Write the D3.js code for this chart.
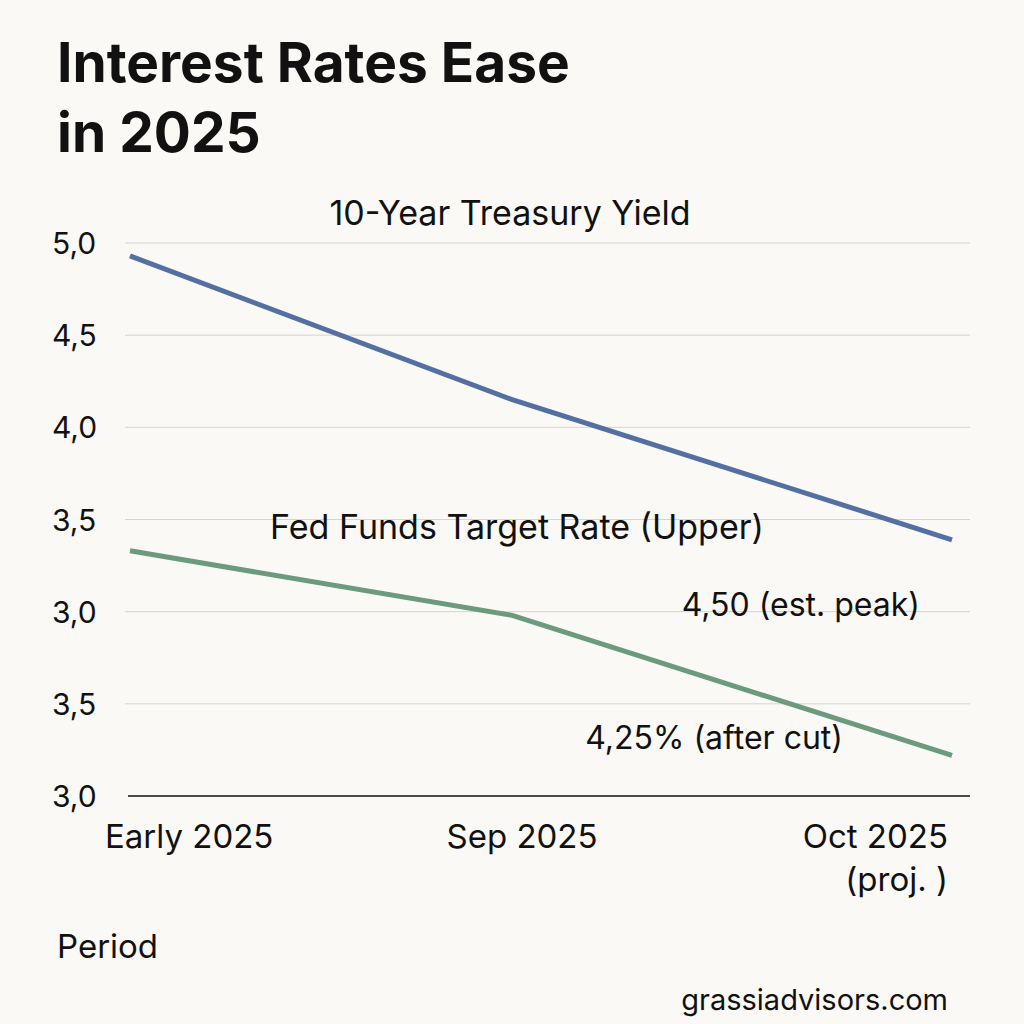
<!DOCTYPE html>
<html><head><meta charset="utf-8">
<script src="https://cdn.jsdelivr.net/npm/d3@7"></script>
<style>body{margin:0;background:#faf9f5}svg{display:block}</style>
</head><body><div id="chart"></div>
<script>
// data
const periods = ["Early 2025", "Sep 2025", "Oct 2025"];
const periodPos = [0, 0.465, 1]; // relative place along the time axis
const treasury = [4.93, 4.15, 3.39];
const fedFunds = [3.33, 2.98, 2.22];
const tickValues = [2.0, 2.5, 3.0, 3.5, 4.0, 4.5, 5.0];
const tickLabels = ["3,0", "3,5", "3,0", "3,5", "4,0", "4,5", "5,0"];

const font = "Inter, 'Noto Sans', sans-serif";
const svg = d3.select("#chart").append("svg").attr("width", 1024).attr("height", 1024)
  .style("font-family", font);
svg.append("rect").attr("width", 1024).attr("height", 1024).attr("fill", "#faf9f5");

const x = d3.scaleLinear().domain([0, 1]).range([130, 952]);
const y = d3.scaleLinear().domain([2, 5]).range([796, 243]);

svg.append("text").attr("x", 57).attr("y", 82).attr("font-size", 55).attr("font-weight", 700)
  .attr("fill", "#111").text("Interest Rates Ease");
svg.append("text").attr("x", 57).attr("y", 152).attr("font-size", 55).attr("font-weight", 700)
  .attr("fill", "#111").text("in 2025");

// grid
svg.append("g").selectAll("line").data(tickValues.slice(1)).join("line")
  .attr("x1", 125).attr("x2", 970).attr("y1", d => y(d)).attr("y2", d => y(d))
  .attr("stroke", "#d4d4d0").attr("stroke-width", 1);
svg.append("line").attr("x1", 128).attr("x2", 970).attr("y1", y(2)).attr("y2", y(2))
  .attr("stroke", "#111").attr("stroke-width", 1.5);

svg.append("g").selectAll("text").data(tickValues).join("text")
  .attr("x", 52).attr("y", d => y(d) + 11).attr("font-size", 30).attr("fill", "#111")
  .text((d, i) => tickLabels[i]);

// x labels
const anchors = ["start", "middle", "end"];
const lx = [105, 522, 948];
svg.append("g").selectAll("text").data(periods).join("text")
  .attr("x", (d, i) => lx[i]).attr("y", 848).attr("text-anchor", (d, i) => anchors[i])
  .attr("font-size", 33).attr("fill", "#111").text(d => d);
svg.append("text").attr("x", 948).attr("y", 891).attr("text-anchor", "end")
  .attr("font-size", 33).attr("fill", "#111").text("(proj. )");
svg.append("text").attr("x", 57).attr("y", 958).attr("font-size", 33).attr("fill", "#111").text("Period");
svg.append("text").attr("x", 948).attr("y", 1010).attr("text-anchor", "end")
  .attr("font-size", 29).attr("fill", "#111").text("grassiadvisors.com");

const line = d3.line().x((d, i) => x(periodPos[i])).y(d => y(d));
svg.append("path").datum(treasury).attr("d", line).attr("fill", "none")
  .attr("stroke", "#5470a3").attr("stroke-width", 5);
svg.append("path").datum(fedFunds).attr("d", line).attr("fill", "none")
  .attr("stroke", "#6b9a7c").attr("stroke-width", 5);

svg.append("text").attr("x", 510).attr("y", 225).attr("text-anchor", "middle")
  .attr("font-size", 34).attr("fill", "#111").text("10-Year Treasury Yield");
svg.append("text").attr("x", 517).attr("y", 539).attr("text-anchor", "middle")
  .attr("font-size", 34).attr("fill", "#111").text("Fed Funds Target Rate (Upper)");
svg.append("text").attr("x", 920).attr("y", 616).attr("text-anchor", "end")
  .attr("font-size", 32).attr("fill", "#111").text("4,50 (est. peak)");
svg.append("text").attr("x", 843).attr("y", 749).attr("text-anchor", "end")
  .attr("font-size", 32).attr("fill", "#111").text("4,25% (after cut)");
</script></body></html>
